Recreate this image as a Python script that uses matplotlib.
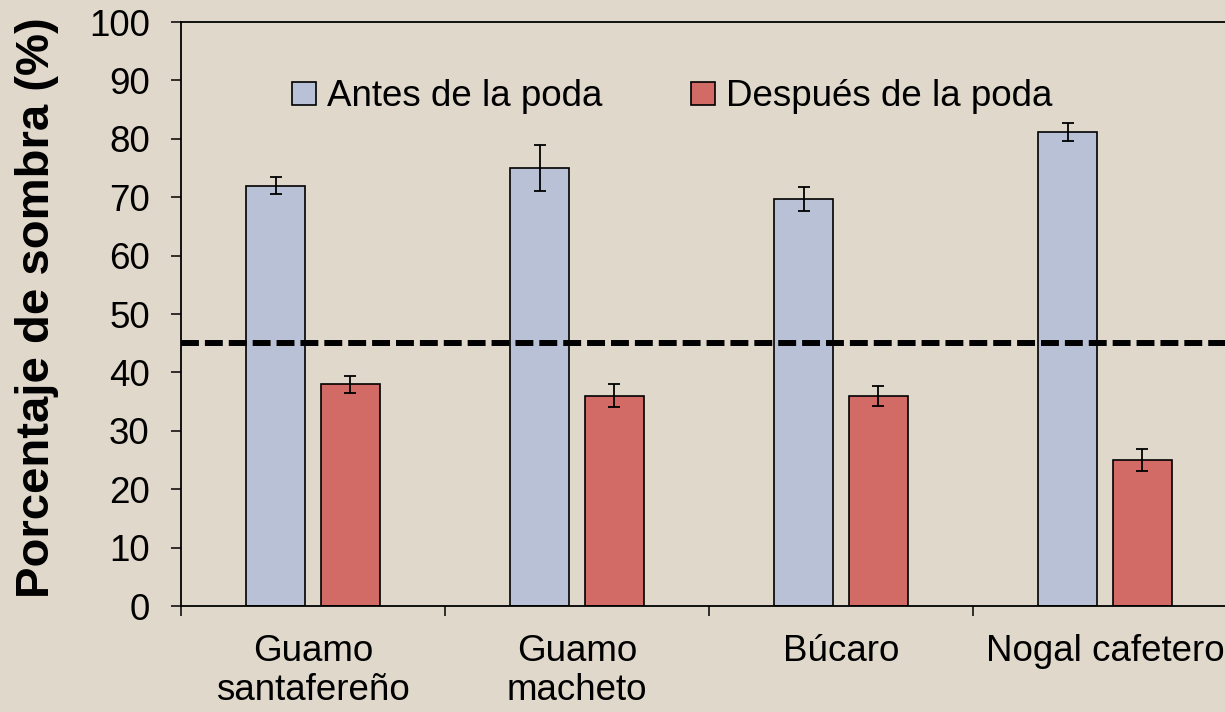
import matplotlib
matplotlib.use("Agg")
import matplotlib.pyplot as plt
import numpy as np

plt.rcParams['font.family'] = ['Liberation Sans', 'DejaVu Sans']

# data
categories = ["Guamo\nsantafereño", "Guamo\nmacheto", "Búcaro", "Nogal cafetero"]
antes = [72, 75, 69.7, 81.2]
antes_err = [1.5, 4.0, 2.0, 1.55]
despues = [38, 36, 36, 25]
despues_err = [1.45, 2.0, 1.7, 1.9]
umbral = 45
series_labels = ["Antes de la poda", "Después de la poda"]
ylabel = "Porcentaje de sombra (%)"

bg = '#e1d8cc'
c_antes = '#b8c1d5'
c_despues = '#d26a66'
fs = 26.5

fig = plt.figure(figsize=(12.25, 7.12), dpi=100, facecolor=bg)
ax = fig.add_axes([181 / 1225, 106 / 712, 1056 / 1225, 584 / 712])
ax.set_facecolor('none')

x = np.arange(len(categories)) + 0.5
w = 0.22
off = 0.142
err_kw = dict(ecolor='black', elinewidth=1.3, capsize=4, capthick=1.3)
ax.bar(x - off, antes, w, yerr=antes_err, color=c_antes, edgecolor='black',
       linewidth=1.2, error_kw=err_kw, label=series_labels[0], zorder=2)
ax.bar(x + off, despues, w, yerr=despues_err, color=c_despues, edgecolor='black',
       linewidth=1.2, error_kw=err_kw, label=series_labels[1], zorder=2)

ax.axhline(umbral, color='black', lw=4.3, linestyle=(0, (3, 1)), zorder=3)

ax.set_xlim(0, len(categories))
ax.set_ylim(0, 100)
ax.set_yticks(np.arange(0, 101, 10))
ax.set_xticks(np.arange(0, len(categories) + 1))
ax.set_xticklabels([])
ax.set_xticks(x, minor=True)
ax.set_xticklabels(categories, minor=True, fontsize=fs, linespacing=1.12)
ax.tick_params(axis='x', which='minor', length=0, pad=20.5)
ax.tick_params(axis='x', which='major', length=7.5, width=1.1, direction='out')
ax.tick_params(axis='y', length=7.5, width=1.1, direction='out', labelsize=fs, pad=15)

ax.spines['right'].set_visible(False)
for s in ['left', 'bottom', 'top']:
    ax.spines[s].set_linewidth(1.3)

fig.text(37 / 1225, 1 - 308 / 712, ylabel, rotation=90, ha='center', va='center',
         fontsize=34, fontweight='bold')

fig.legend(loc='center left', bbox_to_anchor=(292 / 1225, 1 - 97 / 712), ncol=2,
           frameon=False, fontsize=fs, borderpad=0, borderaxespad=0,
           handlelength=0.65, handleheight=0.6, handletextpad=0.3, columnspacing=2.4)

fig.savefig("out.png", dpi=100, facecolor=bg)
